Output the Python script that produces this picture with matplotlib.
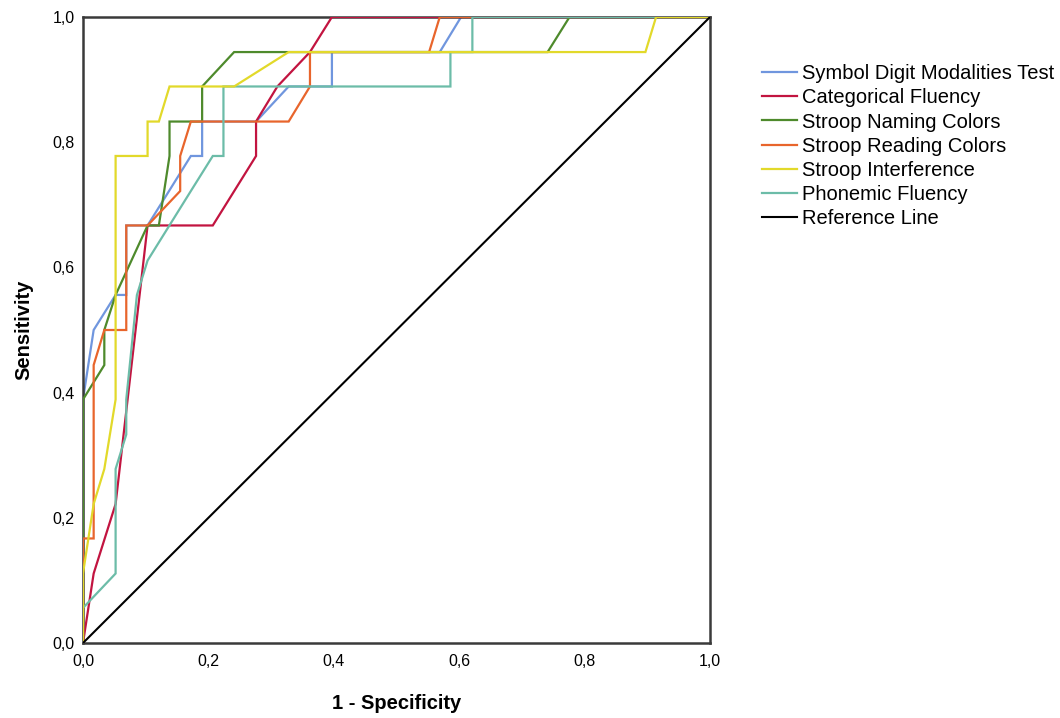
import matplotlib
matplotlib.use("Agg")
import matplotlib.pyplot as plt

# ROC curve vertices: (1 - specificity, sensitivity)
sdmt_fpr = [0.0, 0.0, 0.017, 0.052, 0.069, 0.069, 0.103, 0.172, 0.190, 0.190, 0.276, 0.328, 0.397, 0.397, 0.569, 0.603, 1.0]
sdmt_tpr = [0.0, 0.389, 0.5, 0.556, 0.556, 0.667, 0.667, 0.778, 0.778, 0.833, 0.833, 0.889, 0.889, 0.944, 0.944, 1.0, 1.0]

cat_fpr = [0.0, 0.017, 0.052, 0.103, 0.207, 0.276, 0.276, 0.310, 0.362, 0.397, 1.0]
cat_tpr = [0.0, 0.111, 0.222, 0.667, 0.667, 0.778, 0.833, 0.889, 0.944, 1.0, 1.0]

naming_fpr = [0.0, 0.0, 0.034, 0.034, 0.052, 0.103, 0.121, 0.138, 0.138, 0.190, 0.190, 0.241, 0.741, 0.776, 1.0]
naming_tpr = [0.0, 0.389, 0.444, 0.5, 0.556, 0.667, 0.667, 0.778, 0.833, 0.833, 0.889, 0.944, 0.944, 1.0, 1.0]

reading_fpr = [0.0, 0.0, 0.017, 0.017, 0.034, 0.069, 0.069, 0.103, 0.155, 0.155, 0.172, 0.328, 0.362, 0.362, 0.552, 0.569, 1.0]
reading_tpr = [0.0, 0.167, 0.167, 0.444, 0.5, 0.5, 0.667, 0.667, 0.722, 0.778, 0.833, 0.833, 0.889, 0.944, 0.944, 1.0, 1.0]

interf_fpr = [0.0, 0.0, 0.017, 0.034, 0.052, 0.052, 0.103, 0.103, 0.121, 0.138, 0.241, 0.328, 0.897, 0.914, 1.0]
interf_tpr = [0.0, 0.111, 0.222, 0.278, 0.389, 0.778, 0.778, 0.833, 0.833, 0.889, 0.889, 0.944, 0.944, 1.0, 1.0]

phon_fpr = [0.0, 0.0, 0.052, 0.052, 0.069, 0.069, 0.086, 0.103, 0.172, 0.207, 0.224, 0.224, 0.586, 0.586, 0.621, 0.621, 1.0]
phon_tpr = [0.0, 0.056, 0.111, 0.278, 0.333, 0.389, 0.556, 0.611, 0.722, 0.778, 0.778, 0.889, 0.889, 0.944, 0.944, 1.0, 1.0]

ref_x = [0.0, 1.0]
ref_y = [0.0, 1.0]

series = [
    ("Symbol Digit Modalities Test", sdmt_fpr, sdmt_tpr, "#7096DE", 2),
    ("Categorical Fluency", cat_fpr, cat_tpr, "#C21440", 3),
    ("Stroop Naming Colors", naming_fpr, naming_tpr, "#4E8A2C", 3),
    ("Stroop Reading Colors", reading_fpr, reading_tpr, "#E8652C", 4),
    ("Stroop Interference", interf_fpr, interf_tpr, "#E2D92A", 6),
    ("Phonemic Fluency", phon_fpr, phon_tpr, "#6CBCA8", 5),
]

plt.rcParams['font.family'] = ['Liberation Sans', 'DejaVu Sans']

fig = plt.figure(figsize=(10.6, 7.18), dpi=100)
ax = fig.add_axes([83 / 1060, 75 / 718, 627 / 1060, 626 / 718])

handles = []
for name, fx, ty, col, z in series:
    h, = ax.plot(fx, ty, color=col, lw=1.6, zorder=z, label=name,
                 solid_joinstyle='miter')
    handles.append(h)
h, = ax.plot(ref_x, ref_y, color='black', lw=1.5, zorder=7, label="Reference Line")
handles.append(h)

ax.set_xlim(0, 1)
ax.set_ylim(0, 1)
ticks = [0.0, 0.2, 0.4, 0.6, 0.8, 1.0]
tick_labels = ["0,0", "0,2", "0,4", "0,6", "0,8", "1,0"]
ax.set_xticks(ticks)
ax.set_xticklabels(tick_labels)
ax.set_yticks(ticks)
ax.set_yticklabels(tick_labels)
ax.tick_params(length=0, labelsize=11.5)
ax.tick_params(axis='x', pad=8)
ax.tick_params(axis='y', pad=6)
for sp in ax.spines.values():
    sp.set_color('#3a3a3a')
    sp.set_linewidth(1.8)

ax.set_xlabel("1 - Specificity", fontsize=14.5, fontweight='bold', labelpad=18)
ax.set_ylabel("Sensitivity", fontsize=14.5, fontweight='bold', labelpad=14)

fig.legend(handles=handles, loc='upper left', bbox_to_anchor=(754 / 1060, 1 - 56 / 718),
           frameon=False, fontsize=14.5, handlelength=1.75, handletextpad=0.22,
           labelspacing=0.26, borderaxespad=0)

fig.savefig("out.png", dpi=100)
